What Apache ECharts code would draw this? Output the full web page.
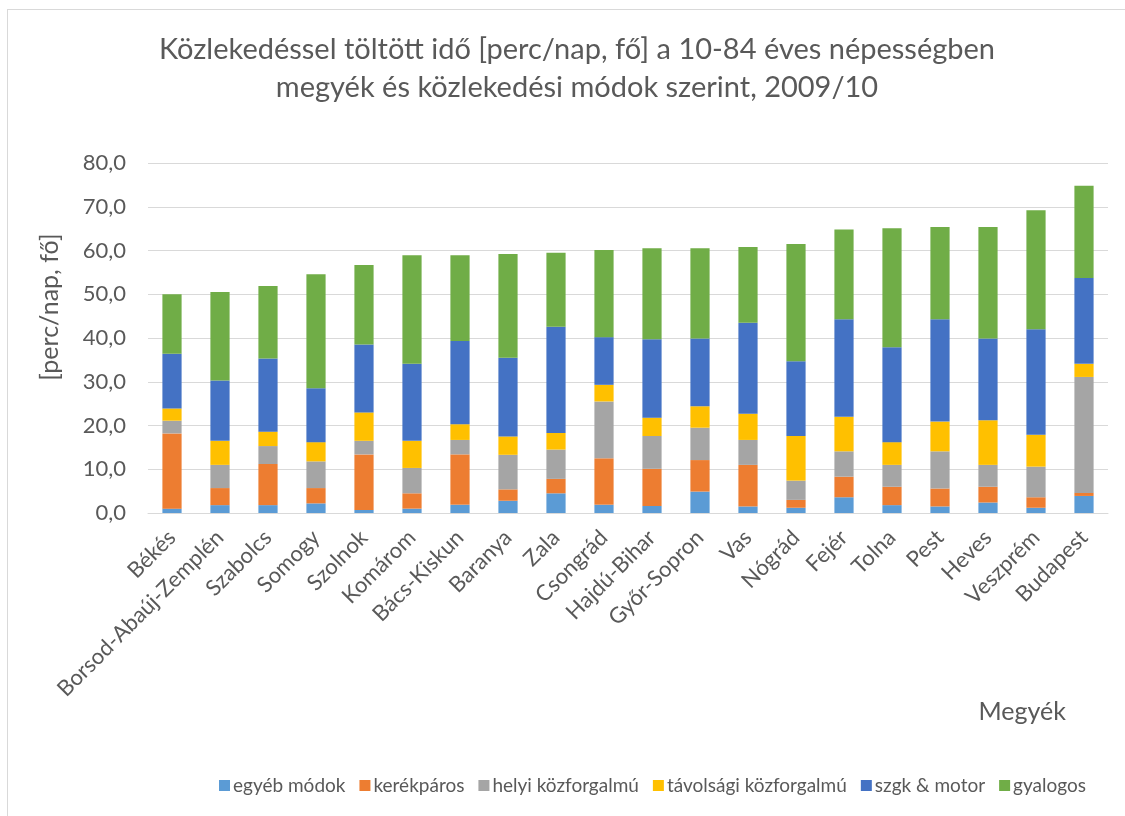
<!DOCTYPE html>
<html>
<head>
<meta charset="utf-8">
<script src="https://cdn.jsdelivr.net/npm/echarts@6/dist/echarts.min.js"></script>
<style>
  html, body { margin: 0; padding: 0; background: #fff; }
  #frame { position: absolute; left: 7px; top: 9px; width: 1130px; height: 820px; border: 1px solid #d9d9d9; box-sizing: border-box; }
  #chart { position: absolute; left: 0; top: 0; width: 1125px; height: 816px; }
</style>
</head>
<body>
<div id="frame"></div>
<div id="chart"></div>
<script>
var megyek = ["Békés", "Borsod-Abaúj-Zemplén", "Szabolcs", "Somogy", "Szolnok", "Komárom",
  "Bács-Kiskun", "Baranya", "Zala", "Csongrád", "Hajdú-Bihar", "Győr-Sopron", "Vas",
  "Nógrád", "Fejér", "Tolna", "Pest", "Heves", "Veszprém", "Budapest"];

var egyebModok = [1.0, 1.8, 1.8, 2.2, 0.7, 1.0, 1.9, 2.8, 4.5, 1.9, 1.6, 4.9, 1.5, 1.2, 3.6, 1.8, 1.5, 2.4, 1.2, 3.9];
var kerekparos = [17.2, 3.9, 9.4, 3.5, 12.7, 3.5, 11.5, 2.6, 3.3, 10.6, 8.5, 7.2, 9.5, 1.8, 4.7, 4.2, 4.1, 3.6, 2.4, 0.7];
var helyiKozf = [2.9, 5.3, 4.1, 6.1, 3.1, 5.8, 3.3, 7.9, 6.7, 13.0, 7.5, 7.4, 5.7, 4.4, 5.8, 5.0, 8.5, 5.0, 7.0, 26.5];
var tavolsagiKozf = [2.8, 5.5, 3.3, 4.4, 6.5, 6.2, 3.6, 4.2, 3.8, 3.8, 4.2, 4.9, 6.0, 10.2, 7.9, 5.2, 6.8, 10.2, 7.3, 3.0];
var szgkMotor = [12.5, 13.8, 16.7, 12.3, 15.5, 17.6, 19.0, 18.0, 24.3, 10.9, 17.9, 15.5, 20.8, 17.1, 22.3, 21.7, 23.4, 18.7, 24.1, 19.6];
var gyalogos = [13.6, 20.2, 16.6, 26.1, 18.2, 24.8, 19.6, 23.7, 16.9, 19.9, 20.8, 20.6, 17.3, 26.8, 20.5, 27.2, 21.1, 25.5, 27.2, 21.1];

var yTicks = { min: 0, max: 80, interval: 10 };

var textColor = "#595959";
var fontName = "Lato";

function sor(name, data, color) {
  return {
    name: name,
    type: "bar",
    stack: "ido",
    data: data,
    barWidth: "40%",
    itemStyle: { color: color },
  };
}

var chart = echarts.init(document.getElementById("chart"));
var option = {
  backgroundColor: "transparent",
  animation: false,
  textStyle: { fontFamily: fontName },
  title: {
    text: "Közlekedéssel töltött idő [perc/nap, fő] a 10-84 éves népességben\nmegyék és közlekedési módok szerint, 2009/10",
    left: 572,
    top: 26,
    textAlign: "center",
    textStyle: {
      color: textColor,
      fontFamily: fontName,
      fontWeight: "normal",
      fontSize: 29,
      lineHeight: 38,
    },
  },
  legend: {
    bottom: 16,
    left: 214,
    itemWidth: 11,
    itemHeight: 11,
    itemGap: 14,
    icon: "rect",
    textStyle: { color: textColor, fontFamily: fontName, fontSize: 19, padding: [0, 0, 0, -2] },
  },
  grid: {
    left: 148,
    right: 17,
    top: 163,
    bottom: 303,
  },
  xAxis: {
    type: "category",
    data: megyek,
    name: "Megyék",
    nameLocation: "end",
    nameGap: 0,
    nameTextStyle: {
      color: textColor,
      fontSize: 25,
      fontFamily: fontName,
      align: "right",
      verticalAlign: "top",
      padding: [186, 42, 0, 0],
    },
    axisLine: { lineStyle: { color: "#d9d9d9", width: 1 } },
    axisTick: { show: false },
    axisLabel: {
      rotate: 45,
      interval: 0,
      color: textColor,
      fontSize: 22,
      fontFamily: fontName,
      margin: 21,
    },
  },
  yAxis: {
    type: "value",
    min: yTicks.min,
    max: yTicks.max,
    interval: yTicks.interval,
    name: "[perc/nap, fő]",
    nameLocation: "middle",
    nameGap: 86,
    nameRotate: 90,
    nameTextStyle: { color: textColor, fontSize: 25, fontFamily: fontName, padding: [0, 0, 0, 62] },
    axisLine: { show: false },
    axisTick: { show: false },
    axisLabel: {
      color: textColor,
      fontSize: 22,
      fontFamily: fontName,
      margin: 22,
      formatter: function (v) { return v.toFixed(1).replace(".", ","); },
    },
    splitLine: { lineStyle: { color: "#d9d9d9", width: 1 } },
  },
  series: [
    sor("egyéb módok", egyebModok, "#5B9BD5"),
    sor("kerékpáros", kerekparos, "#ED7D31"),
    sor("helyi közforgalmú", helyiKozf, "#A5A5A5"),
    sor("távolsági közforgalmú", tavolsagiKozf, "#FFC000"),
    sor("szgk & motor", szgkMotor, "#4472C4"),
    sor("gyalogos", gyalogos, "#70AD47"),
  ],
};
chart.setOption(option);
</script>
</body>
</html>
